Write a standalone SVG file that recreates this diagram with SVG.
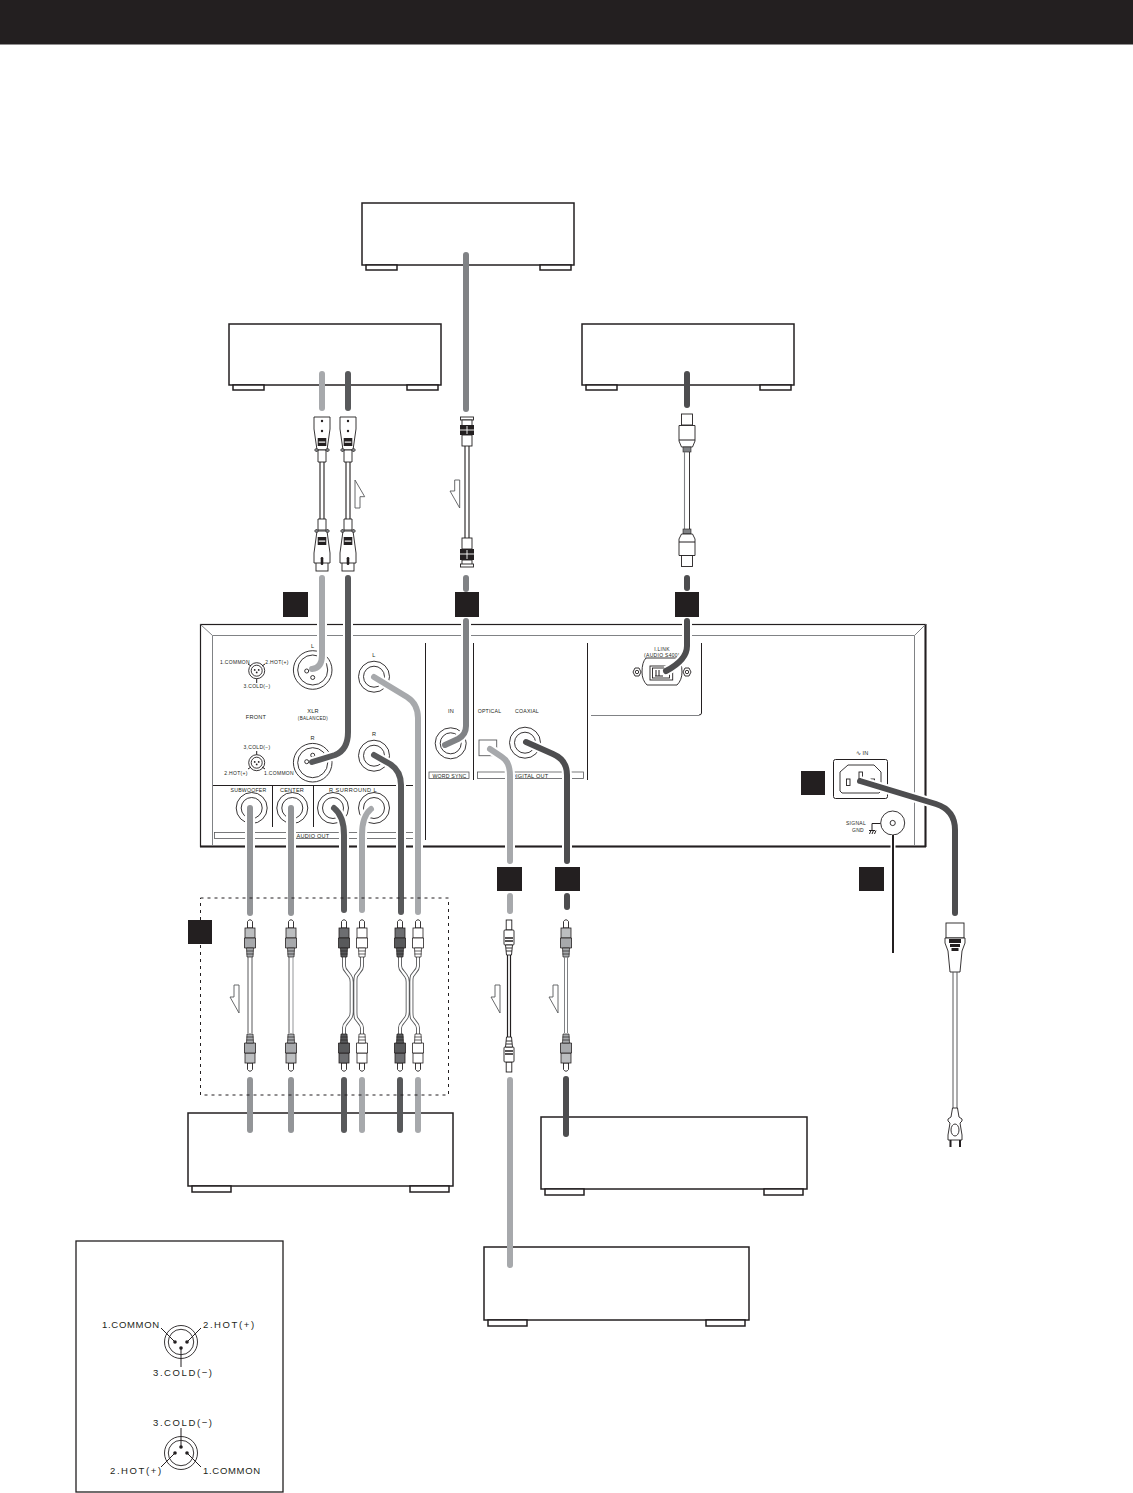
<svg xmlns="http://www.w3.org/2000/svg" xmlns:xlink="http://www.w3.org/1999/xlink" width="1133" height="1493" viewBox="0 0 1133 1493">
<style>
text{font-family:"Liberation Sans",Arial,sans-serif;fill:#231f20}
.dev{fill:#fff;stroke:#231f20;stroke-width:1.5}
.ln{fill:none;stroke:#231f20;stroke-width:1}
.g{fill:none;stroke:#808285;stroke-width:1}
.o{fill:#fff;stroke:#231f20;stroke-width:.9}
.k{fill:#231f20}
.sq{fill:#231f20}
.t5{font-size:5px;letter-spacing:.3px;text-anchor:middle}
.t6{font-size:5.6px;letter-spacing:.2px;text-anchor:middle}
.t8{font-size:9.5px;letter-spacing:.7px}
.t8w{font-size:9.5px;letter-spacing:1.6px}
.c{fill:none;stroke-width:6;stroke-linecap:round;stroke-linejoin:round}
.h{fill:none;stroke:#fff;stroke-width:10}
.c1{stroke:#a7a9ac}.c2{stroke:#58595b}.c3{stroke:#808285}.c4{stroke:#939598}.c5{stroke:#4d4d4f}
.arrow{fill:#fff;stroke:#58595b;stroke-width:.9}
</style>
<defs>
<g id="foot-s"><rect class="dev" x="0" y="0" width="31" height="5"/></g>
<g id="foot-l"><rect class="dev" x="0" y="0" width="39" height="6"/></g>
<g id="rca">
<path class="o" d="M-2.5 9V2.5Q0-1 2.5 2.5V9Z" fill="#fff"/>
<rect x="-5" y="9" width="10" height="10" fill="var(--b)" stroke="#231f20" stroke-width=".8"/>
<path d="M-5.5 19H5.5V29H-5.5Z" fill="var(--d)" stroke="#231f20" stroke-width=".8"/>
<path d="M-3.5 29H3.5L3 38H-3Z" fill="var(--d)" stroke="#231f20" stroke-width=".7"/>
<path d="M-3.5 32H3.5M-3.5 35H3.5" stroke="#231f20" stroke-width=".7"/>
</g>
<g id="opt">
<rect class="o" x="-2.8" y="0" width="5.6" height="10"/>
<rect class="o" x="-5" y="10" width="10" height="15" rx="1"/>
<path d="M-4 18H4M-4 21H4" stroke="#231f20" stroke-width="1.4"/>
<path class="o" d="M-3.5 25H3.5L2.5 35H-2.5Z"/>
<path d="M-3 28H3M-3 31H3" stroke="#231f20" stroke-width=".9"/>
</g>
<g id="xlr-top">
<path class="o" d="M-8 0H8V12L5 33H-5L-8 12Z"/>
<circle class="k" cx="0" cy="4" r="1.2"/><circle class="k" cx="0" cy="14" r="1.2"/>
<rect class="k" x="-4.3" y="21" width="8.6" height="8"/><rect x="-3.3" y="24.5" width="6.6" height="1.2" fill="#fff"/>
<path class="o" d="M-4 33H4V45H-4Z"/>
<path d="M-7.5 33L-5.5 31 -3.5 33-5.5 35ZM7.5 33L5.5 31 3.5 33 5.5 35Z" fill="#808285" stroke="#231f20" stroke-width=".7"/>
</g>
<g id="xlr-bot">
<rect class="o" x="-6" y="43" width="12" height="9"/>
<path class="o" d="M-4 0H4V11H-4Z"/>
<path class="o" d="M-5 12H5L8 34V44H-8V34Z"/>
<path d="M-7.5 12L-5.5 10-3.5 12-5.5 14ZM7.5 12L5.5 10 3.5 12 5.5 14Z" fill="#808285" stroke="#231f20" stroke-width=".7"/>
<rect class="k" x="-4.3" y="18" width="8.6" height="8"/><rect x="-3.3" y="21.5" width="6.6" height="1.2" fill="#fff"/>
<rect class="k" x="-1.3" y="38" width="2.6" height="8" rx="1.2"/>
</g>
<g id="jack"><circle class="o" r="15.5"/><circle class="o" r="10.5"/></g>
<g id="mini"><circle class="o" r="8"/><circle class="o" r="5.5"/><circle class="k" cx="-2" cy="-.8" r=".9"/><circle class="k" cx="2" cy="-.8" r=".9"/><circle class="k" cx="0" cy="1.7" r=".9"/></g>
<path id="p1" d="M322 578V655Q322 668 312 669"/>
<path id="p2" d="M348 578V732Q348 750 335 755L312 762"/>
<path id="p3" d="M466 621V726Q466 735 458 739L445 745"/>
<path id="p4" d="M687 621V646Q687 660 666 671"/>
<path id="p5" d="M374 677L407 697Q418 704 418 718V912"/>
<path id="p6" d="M374 755L390 764Q401 771 401 785V912"/>
<path id="p7" d="M250 808V913"/>
<path id="p8" d="M291 808V913"/>
<path id="p9" d="M334 808Q344 816 344 835V910"/>
<path id="p10" d="M371 809Q362 816 362 835V910"/>
<path id="p11" d="M490 749L502 757Q510 762 510 776V861"/>
<path id="p12" d="M526 742L553 754Q567 760 567 775V861"/>
<path id="p13" d="M860 781L936 804Q955 810 955 830V913"/>
</defs>

<rect id="header" x="0" y="0" width="1133" height="44.500" fill="#231f20"/>

<g id="device-wordclock"><rect class="dev" x="362" y="203" width="212" height="62"/><use href="#foot-s" x="366" y="265"/><use href="#foot-s" x="540" y="265"/></g>
<g id="device-xlr"><rect class="dev" x="229" y="324" width="212" height="61"/><use href="#foot-s" x="233" y="385"/><use href="#foot-s" x="407" y="385"/></g>
<g id="device-ilink"><rect class="dev" x="582" y="324" width="212" height="61"/><use href="#foot-s" x="586" y="385"/><use href="#foot-s" x="760" y="385"/></g>
<g id="device-analog"><rect class="dev" x="188" y="1113" width="265" height="73"/><use href="#foot-l" x="192" y="1186"/><use href="#foot-l" x="410" y="1186"/></g>
<g id="device-coaxial"><rect class="dev" x="541" y="1117" width="266" height="72"/><use href="#foot-l" x="545" y="1189"/><use href="#foot-l" x="764" y="1189"/></g>
<g id="device-optical"><rect class="dev" x="484" y="1247" width="265" height="73"/><use href="#foot-l" x="488" y="1320"/><use href="#foot-l" x="706" y="1320"/></g>

<g id="panel">
<rect x="200.500" y="624.500" width="725" height="222" fill="#fff" stroke="#231f20" stroke-width="1.2"/>
<path d="M200 846.500H926M925.500 624V847" stroke="#231f20" stroke-width="2" fill="none"/>
<path class="g" d="M212.500 846V635.500H914.500V846M200.500 624.500L212.500 635.500M925.500 624.500L914.500 635.500"/>
<path class="ln" d="M425.500 643V840M473.500 643V780M587.500 643V780"/>
<path class="ln" d="M701.500 643V713Q701.500 715 699 715"/><path class="g" d="M591 715.500H699"/>
<path class="ln" d="M213 785.500H414M272.500 785V827M313.500 785V827"/>
<rect x="214.500" y="832.500" width="200" height="6" fill="none" stroke="#58595b" stroke-width=".8"/>
<rect x="429" y="772" width="40" height="6.500" fill="none" stroke="#58595b" stroke-width=".8"/>
<rect x="477.500" y="772" width="106" height="6.500" fill="none" stroke="#58595b" stroke-width=".8"/>
<g id="jacks">
<g transform="translate(312.700,670)"><circle class="o" r="19.300"/><circle class="o" r="15"/><circle class="o" cx="-6" cy="1" r="2"/><circle class="o" cx="0" cy="7.500" r="2"/></g>
<g transform="translate(312.700,762.700)"><circle class="o" r="19.300"/><circle class="o" r="15"/><circle class="o" cx="-6" cy="-1" r="2"/><circle class="o" cx="0" cy="-7.500" r="2"/></g>
<use href="#jack" x="374" y="676.700"/><use href="#jack" x="374" y="755.700"/>
<use href="#jack" x="251.700" y="808"/><use href="#jack" x="292.300" y="808"/><use href="#jack" x="333" y="808"/><use href="#jack" x="374" y="808"/>
<use href="#jack" x="450.700" y="743.300"/><use href="#jack" x="525" y="742.700"/>
<rect x="479" y="740" width="17.700" height="15.700" fill="#fff" stroke="#58595b" stroke-width=".9"/>
<use href="#mini" x="256.700" y="670.700"/><use href="#mini" x="256.700" y="762.700"/>
<path class="ln" d="M256.700 678.700V683M248 664L251 666M265 664L262 666M256.700 754.700V751M248 769L251 767M265 769L262 767" stroke-width=".6"/>
</g>
<g id="ilink-port">
<path class="o" d="M646 658H677Q682 662 682 672Q682 680 677 685H647Q642 680 642 672Q642 662 646 658Z"/>
<rect class="o" x="650" y="666" width="22.700" height="14"/><rect class="o" x="652.500" y="668" width="17" height="10"/>
<path d="M656 670V676M659 670V676M655 676H663" stroke="#231f20" stroke-width="1"/>
<path class="o" d="M633 672L635 668H639L641 672 639 676H635Z"/><circle class="o" cx="637" cy="672" r="1.700"/>
<path class="o" d="M683 672L685 668H689L691 672 689 676H685Z"/><circle class="o" cx="687" cy="672" r="1.700"/>
</g>
<g id="iec-inlet">
<rect x="833.500" y="759.500" width="54" height="39" rx="2" fill="#fff" stroke="#231f20" stroke-width="1"/>
<path class="o" d="M848 765H874L881 772V791L879 793H842L840 791V772Z" stroke-width=".7"/>
<rect class="o" x="846.500" y="779" width="3.500" height="6.500" stroke-width=".7"/><rect class="o" x="859" y="772" width="3.500" height="6.500" stroke-width=".7"/><rect class="o" x="871" y="779" width="3.500" height="6.500" stroke-width=".7"/>
</g>
<g id="signal-gnd">
<circle class="o" cx="892.700" cy="823" r="12"/><circle class="o" cx="892.700" cy="823" r="2.600" stroke-width=".6"/>
<path class="ln" d="M880.500 823.500H872V830M869 830.500H875M869.500 834L871 830.500M872 834L873.500 830.500M874.500 834L876 830.500" stroke-width=".7"/>
</g>
<g id="panel-labels">
<text class="t5" x="235" y="663.500">1.COMMON</text><text class="t5" x="277" y="663.500">2.HOT(+)</text><text class="t5" x="257" y="688">3.COLD(−)</text>
<text class="t6" x="256" y="719">FRONT</text><text class="t6" x="313" y="713">XLR</text><text class="t5" x="313" y="719.500" style="font-size:4.500px">(BALANCED)</text>
<text class="t6" x="312.700" y="648">L</text><text class="t6" x="374" y="657">L</text><text class="t6" x="312.700" y="740">R</text><text class="t6" x="374" y="736">R</text>
<text class="t5" x="257" y="749">3,COLD(−)</text><text class="t5" x="236" y="775">2.HOT(+)</text><text class="t5" x="279" y="775">1.COMMON</text>
<text class="t6" x="248.500" y="792" style="font-size:5.200px">SUBWOOFER</text><text class="t6" x="292" y="792">CENTER</text><text class="t6" x="353" y="792" style="letter-spacing:.45px">R  SURROUND  L</text><text class="t6" x="313" y="837.500">AUDIO OUT</text>
<text class="t6" x="451" y="713">IN</text><text class="t6" x="489.500" y="713" style="font-size:5.200px">OPTICAL</text><text class="t6" x="527" y="713" style="font-size:5.200px">COAXIAL</text>
<text class="t6" x="449.500" y="777.500" style="font-size:5.200px">WORD SYNC</text><text class="t6" x="530" y="777.500">DIGITAL OUT</text>
<text class="t5" x="662" y="651">I.LINK</text><text class="t5" x="662" y="656.500">(AUDIO S400)</text>
<text class="t6" x="862" y="755">∿ IN</text>
<text class="t5" x="856" y="825">SIGNAL</text><text class="t5" x="858" y="831.500">GND</text>
</g>
</g>

<g id="connectors">
<use href="#p1" class="h"/><use href="#p2" class="h"/><use href="#p3" class="h"/><use href="#p4" class="h"/><use href="#p5" class="h"/><use href="#p6" class="h"/><use href="#p7" class="h"/><use href="#p8" class="h"/><use href="#p9" class="h"/><use href="#p10" class="h"/><use href="#p11" class="h"/><use href="#p12" class="h"/><use href="#p13" class="h"/>
<path d="M893 835V953" stroke="#fff" stroke-width="5" fill="none"/>
<use href="#p1" class="c c1"/><use href="#p2" class="c c2"/><use href="#p3" class="c c3"/><use href="#p4" class="c c5"/><use href="#p5" class="c c1"/><use href="#p6" class="c c2"/><use href="#p7" class="c c4"/><use href="#p8" class="c c4"/><use href="#p9" class="c c2"/><use href="#p10" class="c c1"/><use href="#p11" class="c c1"/><use href="#p12" class="c c5"/><use href="#p13" class="c c5"/>
<path d="M893 835V953" stroke="#231f20" stroke-width="2" fill="none"/>
<path class="c c3" d="M466 255V409"/><path class="c c3" d="M466 578V589"/>
<path class="c c1" d="M322 374V408"/><path class="c c2" d="M348 374V408"/>
<path class="c c5" d="M687 374V405"/><path class="c c5" d="M687 578V588"/>
<path class="c c1" d="M510 896V911"/><path class="c c5" d="M567 896V907"/>
<path class="c c4" d="M250 1080V1130"/><path class="c c4" d="M291 1080V1130"/><path class="c c2" d="M344 1080V1130"/><path class="c c1" d="M362 1080V1130"/><path class="c c2" d="M400 1080V1130"/><path class="c c1" d="M418 1080V1130"/>
<path class="c c1" d="M510 1080V1265"/><path class="c c5" d="M566 1079V1134"/>
</g>

<g id="cable-xlr-l"><use href="#xlr-top" x="322" y="417"/><path d="M320 462V520M324 462V520" stroke="#231f20" stroke-width="1.100"/><use href="#xlr-bot" x="322" y="519"/></g>
<g id="cable-xlr-r"><use href="#xlr-top" x="348" y="417"/><path d="M346 462V520M350 462V520" stroke="#231f20" stroke-width="1.100"/><use href="#xlr-bot" x="348" y="519"/></g>
<g id="cable-bnc">
<rect class="o" x="460.500" y="417" width="13" height="3"/><rect class="o" x="462" y="420" width="10" height="6"/><rect class="k" x="460" y="425" width="14" height="10"/><path d="M460 430H474M467 426V434" stroke="#fff" stroke-width=".9"/><rect class="o" x="462" y="435" width="10" height="11"/>
<path d="M465 446V538M469 446V538" stroke="#231f20" stroke-width="1.100"/>
<rect class="o" x="462" y="538" width="10" height="11"/><rect class="k" x="460" y="549" width="14" height="11"/><path d="M460 554H474M467 550V559" stroke="#fff" stroke-width=".9"/><rect class="o" x="462" y="560" width="10" height="5"/><rect class="o" x="460.500" y="564" width="13" height="3"/>
</g>
<g id="cable-ilink">
<rect class="o" x="681.500" y="414" width="11" height="11" stroke-width="1.200"/><path class="o" d="M679 425.500H695V441L692.500 447H681.500L679 441Z"/><path class="ln" d="M679 440H695"/><rect x="683" y="447" width="8" height="5" fill="#808285" stroke="#231f20" stroke-width=".6"/>
<path d="M684.500 452V529" stroke="#808285" stroke-width="1.100"/><path d="M689.500 452V529" stroke="#231f20" stroke-width=".9"/>
<rect x="683" y="529" width="8" height="5" fill="#808285" stroke="#231f20" stroke-width=".6"/><path class="o" d="M681.500 534H692.500L695 539V555.500H679V539Z"/><path class="ln" d="M679 542H695"/><rect class="o" x="681.500" y="555.500" width="11" height="11" stroke-width="1.200"/>
</g>
<g id="cable-sub" style="--b:#bcbec0;--d:#a7a9ac"><use href="#rca" transform="translate(250,919)"/><path d="M248 957V1033M252 957V1033" stroke="#58595b" stroke-width="1"/><use href="#rca" transform="translate(250,1072) scale(1,-1)"/></g>
<g id="cable-center" style="--b:#bcbec0;--d:#a7a9ac"><use href="#rca" transform="translate(291,919)"/><path d="M289 957V1033" stroke="#58595b" stroke-width="1"/><path d="M293 957V1033" stroke="#939598" stroke-width="1"/><use href="#rca" transform="translate(291,1072) scale(1,-1)"/></g>
<g id="cable-surround">
<path d="M344 957V966Q344 969 347 972L350 976Q351.700 978 351.700 982V1012Q351.700 1016 350 1018L347 1022Q344 1025 344 1028V1034M362 957V966Q362 969 359 972L356 976Q355.400 978 355.400 982V1012Q355.400 1016 356 1018L359 1022Q362 1025 362 1028V1034" fill="none" stroke="#58595b" stroke-width="4"/>
<path d="M344 957V966Q344 969 347 972L350 976Q351.700 978 351.700 982V1012Q351.700 1016 350 1018L347 1022Q344 1025 344 1028V1034M362 957V966Q362 969 359 972L356 976Q355.400 978 355.400 982V1012Q355.400 1016 356 1018L359 1022Q362 1025 362 1028V1034" fill="none" stroke="#fff" stroke-width="2.200"/>
<g style="--b:#6d6e71;--d:#58595b"><use href="#rca" transform="translate(344,919)"/><use href="#rca" transform="translate(344,1072) scale(1,-1)"/></g>
<g style="--b:#fff;--d:#fff"><use href="#rca" transform="translate(362,919)"/><use href="#rca" transform="translate(362,1072) scale(1,-1)"/></g>
</g>
<g id="cable-front">
<path d="M400 957V966Q400 969 403 972L406 976Q407.700 978 407.700 982V1012Q407.700 1016 406 1018L403 1022Q400 1025 400 1028V1034M418 957V966Q418 969 415 972L412 976Q411.400 978 411.400 982V1012Q411.400 1016 412 1018L415 1022Q418 1025 418 1028V1034" fill="none" stroke="#58595b" stroke-width="4"/>
<path d="M400 957V966Q400 969 403 972L406 976Q407.700 978 407.700 982V1012Q407.700 1016 406 1018L403 1022Q400 1025 400 1028V1034M418 957V966Q418 969 415 972L412 976Q411.400 978 411.400 982V1012Q411.400 1016 412 1018L415 1022Q418 1025 418 1028V1034" fill="none" stroke="#fff" stroke-width="2.200"/>
<g style="--b:#6d6e71;--d:#58595b"><use href="#rca" transform="translate(400,919)"/><use href="#rca" transform="translate(400,1072) scale(1,-1)"/></g>
<g style="--b:#fff;--d:#fff"><use href="#rca" transform="translate(418,919)"/><use href="#rca" transform="translate(418,1072) scale(1,-1)"/></g>
</g>
<g id="cable-optical"><use href="#opt" transform="translate(509,920)"/><path d="M507.500 955V1038M510.500 955V1038" stroke="#231f20" stroke-width="1.200"/><use href="#opt" transform="translate(509,1072) scale(1,-1)"/></g>
<g id="cable-coax" style="--b:#bcbec0;--d:#a7a9ac"><use href="#rca" transform="translate(566,919)"/><path d="M564.500 957V1033M567.500 957V1033" stroke="#808285" stroke-width="1"/><use href="#rca" transform="translate(566,1072) scale(1,-1)"/></g>
<g id="cable-power">
<rect class="o" x="946" y="923" width="18" height="15"/>
<path class="o" d="M945 938H965V943L962 951L960 972H950L948 951L945 943Z"/>
<path class="k" d="M949 939H961V943H949ZM950 944H960V947H950ZM951.500 948H958.500V951H951.500Z"/>
<path d="M953 972V1108M957 972V1108" stroke="#58595b" stroke-width="1"/>
<path class="o" d="M952.500 1108H957.500L959 1117L962 1119V1121L960 1123L962 1135V1140H948V1135L950 1123L948 1121V1119L951 1117Z"/>
<ellipse class="o" cx="955" cy="1130" rx="4" ry="6"/>
<path d="M950.500 1140V1147M960 1140V1147" stroke="#231f20" stroke-width="2"/>
</g>

<g id="arrows">
<path class="arrow" d="M355 480L364.700 496.700H360V508H355Z"/>
<path class="arrow" d="M459.700 480H454.700V491H450L459.700 508Z"/>
<path class="arrow" d="M239 985H234V997H230L239 1013Z"/>
<path class="arrow" d="M500 985H495V997H491L500 1013Z"/>
<path class="arrow" d="M558 985H553V997H549L558 1013Z"/>
</g>

<rect id="dotted-group" x="200.500" y="898" width="248" height="197" fill="none" stroke="#231f20" stroke-width="1" stroke-dasharray="3 4"/>

<g id="markers">
<rect class="sq" x="283" y="592" width="25" height="25"/><rect class="sq" x="455" y="592" width="24" height="25"/><rect class="sq" x="675" y="592" width="24" height="25"/>
<rect class="sq" x="801" y="771" width="24" height="24"/>
<rect class="sq" x="497" y="867" width="25" height="24"/><rect class="sq" x="555" y="867" width="25" height="24"/><rect class="sq" x="859" y="867" width="25" height="24"/>
<rect class="sq" x="188" y="920" width="24" height="24"/>
</g>

<g id="xlr-legend">
<rect x="76" y="1241" width="207" height="251" fill="#fff" stroke="#231f20" stroke-width="1.300"/>
<g transform="translate(181,1342)"><circle class="o" r="16.500"/><circle class="o" r="12.700"/><circle class="k" cx="-6" cy="0" r="1.800"/><circle class="k" cx="6" cy="0" r="1.800"/><circle class="k" cx="0" cy="6" r="1.800"/><path class="ln" d="M-6 0L-20-14M6 0L20-14M0 6V25" stroke-width=".7"/></g>
<g transform="translate(181,1453)"><circle class="o" r="16.500"/><circle class="o" r="12.700"/><circle class="k" cx="-6" cy="0" r="1.800"/><circle class="k" cx="6" cy="0" r="1.800"/><circle class="k" cx="0" cy="-6" r="1.800"/><path class="ln" d="M-6 0L-20 14M6 0L20 14M0-6V-25" stroke-width=".7"/></g>
<text class="t8" x="102" y="1328">1.COMMON</text><text class="t8w" x="203" y="1328">2.HOT(+)</text><text class="t8w" x="153" y="1376">3.COLD(−)</text>
<text class="t8w" x="153" y="1426">3.COLD(−)</text><text class="t8w" x="110" y="1474">2.HOT(+)</text><text class="t8" x="203" y="1474">1.COMMON</text>
</g>
</svg>
